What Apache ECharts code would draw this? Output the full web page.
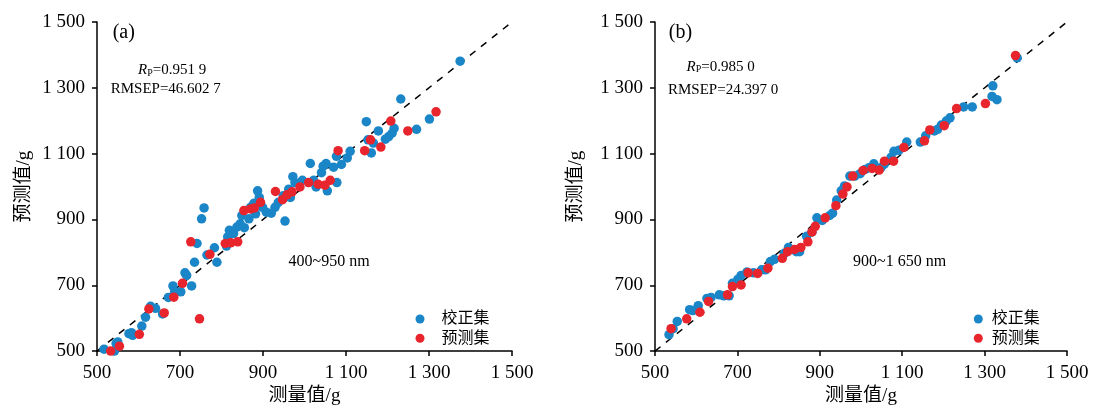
<!DOCTYPE html>
<html>
<head>
<meta charset="utf-8">
<script src="https://cdn.jsdelivr.net/npm/echarts@6/dist/echarts.min.js"></script>
<style>
  html, body { margin: 0; padding: 0; background: #fff; }
  #chart { width: 1093px; height: 411px; }
</style>
</head>
<body>
<div id="chart"></div>
<script>
// axis ticks (shared by both panels)
const tickValues = [500, 700, 900, 1100, 1300, 1500]
const tickLabels = ['500', '700', '900', '1 100', '1 300', '1 500']
const refLine = [[500, 500], [1500, 1500]]

// (a) 400~950 nm  [measured, predicted]
const calA = [
  [517, 506], [542, 500], [546, 523], [550, 528], [577, 553], [583, 556], [586, 548], [608, 576],
  [617, 603], [629, 636], [641, 630], [658, 613], [672, 663], [683, 698], [687, 680], [702, 680],
  [712, 738], [716, 730], [728, 698], [735, 770], [741, 827], [752, 902], [758, 935], [765, 792],
  [783, 814], [789, 770], [812, 819], [815, 847], [819, 867], [829, 857], [837, 877], [845, 887],
  [849, 912], [855, 875], [866, 902], [870, 937], [878, 949], [882, 917], [887, 987], [891, 967],
  [899, 937], [908, 922], [920, 919], [929, 937], [937, 952], [949, 972], [953, 895], [962, 992],
  [966, 967], [972, 1030], [977, 1012], [995, 1019], [1014, 1070], [1022, 1019], [1028, 999],
  [1041, 1042], [1045, 1062], [1052, 1070], [1055, 987], [1070, 1059], [1077, 1092], [1078, 1012],
  [1089, 1067], [1103, 1087], [1110, 1107], [1149, 1197], [1153, 1142], [1161, 1102], [1166, 1132],
  [1178, 1169], [1195, 1144], [1203, 1152], [1211, 1162], [1216, 1177], [1232, 1266], [1270, 1174],
  [1301, 1205], [1375, 1381]
]
const predA = [
  [533, 500], [554, 515], [602, 551], [625, 628], [662, 616], [685, 664], [706, 706], [726, 832],
  [747, 598], [772, 794], [809, 827], [822, 829], [839, 832], [854, 927], [870, 932], [879, 935],
  [894, 952], [930, 985], [947, 960], [958, 975], [970, 984], [989, 999], [1010, 1012], [1033, 1007],
  [1049, 1004], [1062, 1019], [1081, 1109], [1145, 1109], [1159, 1142], [1184, 1120], [1208, 1199],
  [1249, 1169], [1317, 1227]
]

// (b) 900~1 650 nm
const calB = [
  [534, 550], [544, 568], [554, 590], [584, 626], [592, 623], [605, 638], [626, 660], [636, 663],
  [656, 671], [667, 668], [680, 668], [688, 706], [701, 718], [709, 730], [723, 740], [739, 738],
  [759, 747], [768, 747], [780, 772], [790, 779], [814, 797], [824, 815], [843, 802], [851, 802],
  [868, 849], [881, 862], [893, 905], [906, 897], [924, 912], [931, 919], [941, 959], [952, 987],
  [960, 1002], [973, 1032], [985, 1032], [998, 1039], [1010, 1052], [1019, 1057], [1031, 1069],
  [1048, 1057], [1056, 1067], [1073, 1089], [1080, 1107], [1092, 1110], [1111, 1135], [1144, 1135],
  [1157, 1154], [1178, 1169], [1186, 1174], [1195, 1187], [1207, 1199], [1216, 1209], [1249, 1242],
  [1270, 1242], [1320, 1306], [1318, 1274], [1330, 1264], [1379, 1391]
]
const predB = [
  [539, 568], [577, 598], [609, 618], [630, 651], [676, 671], [688, 696], [709, 701], [726, 738],
  [749, 736], [774, 752], [809, 782], [822, 802], [839, 809], [854, 815], [871, 832], [881, 862],
  [889, 879], [913, 905], [939, 942], [956, 977], [966, 999], [980, 1032], [1005, 1049], [1027, 1055],
  [1044, 1050], [1057, 1077], [1079, 1077], [1104, 1119], [1154, 1139], [1167, 1172], [1202, 1185],
  [1232, 1237], [1302, 1252], [1375, 1398]
]

const BLUE = '#1a86c8'
const RED = '#e8242d'
const SERIF = '"Liberation Serif", "Times New Roman", "Noto Sans CJK SC", serif'

function tickText(v) {
  const i = tickValues.indexOf(v)
  return i >= 0 ? tickLabels[i] : ''
}

function axisBase(idx) {
  return {
    gridIndex: idx,
    type: 'value',
    min: 500,
    max: 1500,
    interval: 200,
    axisLine: { onZero: false, lineStyle: { color: '#000', width: 1.5 } },
    axisTick: { length: 5, lineStyle: { color: '#000', width: 1.5 } },
    axisLabel: { formatter: tickText, color: '#000', fontSize: 19, fontFamily: SERIF, margin: 12 },
    splitLine: { show: false },
    nameTextStyle: { color: '#000', fontSize: 19, fontFamily: SERIF },
    nameLocation: 'middle',
  }
}

function scatter(name, data, color, idx) {
  return {
    name, type: 'scatter', data, xAxisIndex: idx, yAxisIndex: idx,
    symbolSize: 9.5, itemStyle: { color, opacity: 1 }, z: name === '预测集' ? 3 : 2,
  }
}

function dashed(idx) {
  return {
    type: 'line', data: refLine, xAxisIndex: idx, yAxisIndex: idx,
    symbol: 'none', silent: true, z: 1,
    lineStyle: { color: '#000', width: 1.5, type: [7, 7] },
  }
}

function label(text, x, y, size, extra) {
  return {
    type: 'text', x, y, silent: true,
    style: Object.assign({ text, fill: '#000', font: size + 'px ' + SERIF, align: 'left', verticalAlign: 'middle' }, extra || {}),
  }
}

const rpRich = {
  i: { fontStyle: 'italic', fontSize: 15, fontFamily: SERIF, fill: '#000' },
  s: { fontSize: 10, fontFamily: SERIF, fill: '#000', verticalAlign: 'bottom', padding: [4, 0, 0, 0] },
}

function legend(left, pad) {
  return {
    data: ['校正集', '预测集'], orient: 'vertical', left, top: 311, padding: 0,
    icon: 'circle', itemWidth: 9, itemHeight: 9, itemGap: 3.3, selectedMode: false,
    textStyle: { fontSize: 16, lineHeight: 16, color: '#000', fontFamily: SERIF, padding: [0, 0, 0, pad] },
  }
}

const chart = echarts.init(document.getElementById('chart'))
chart.setOption({
  backgroundColor: '#fff',
  animation: false,
  grid: [
    { left: 97, top: 22, width: 415, height: 333 },
    { left: 655, top: 22, width: 412, height: 333 },
  ],
  xAxis: [
    Object.assign(axisBase(0), { name: '测量值/g', nameGap: 35 }),
    Object.assign(axisBase(1), { name: '测量值/g', nameGap: 35 }),
  ],
  yAxis: [
    Object.assign(axisBase(0), { name: '预测值/g', nameGap: 63 }),
    Object.assign(axisBase(1), { name: '预测值/g', nameGap: 69 }),
  ],
  legend: [legend(415.5, 12), legend(973.8, 4)],
  series: [
    dashed(0),
    scatter('校正集', calA, BLUE, 0),
    scatter('预测集', predA, RED, 0),
    dashed(1),
    scatter('校正集', calB, BLUE, 1),
    scatter('预测集', predB, RED, 1),
  ],
  graphic: [
    label('(a)', 112.7, 33, 20),
    label('{i|R}{s|P}=0.951 9', 138, 70.5, 15, { rich: rpRich }),
    label('RMSEP=46.602 7', 110.7, 89, 15),
    label('400~950 nm', 288.5, 262, 16),
    label('(b)', 668.8, 33, 20),
    label('{i|R}{s|P}=0.985 0', 686.5, 67, 15, { rich: rpRich }),
    label('RMSEP=24.397 0', 668, 90, 15),
    label('900~1 650 nm', 853, 262, 16),
  ],
})
</script>
</body>
</html>
